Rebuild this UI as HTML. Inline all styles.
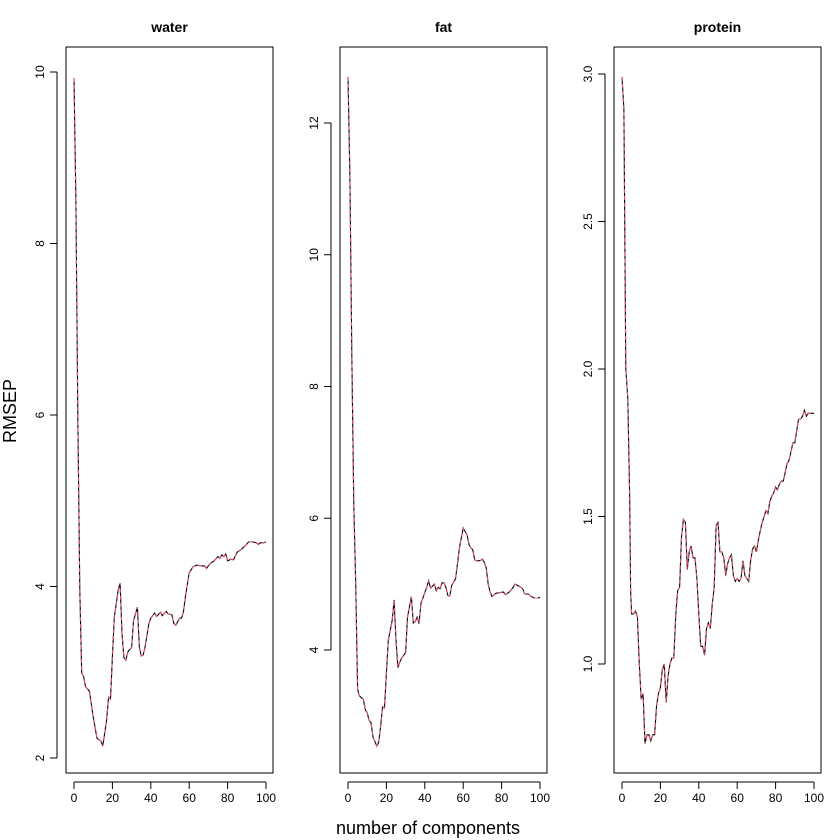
<!DOCTYPE html>
<html><head><meta charset="utf-8"><style>body{margin:0;background:#fff}svg{display:block}text{font-family:"Liberation Sans",sans-serif}</style></head>
<body>
<svg id="c" width="840" height="840" viewBox="0 0 840 840">
<text x="16" y="411" font-size="18" text-anchor="middle" transform="rotate(-90 16 411)">RMSEP</text>
<text x="428" y="834" font-size="18" text-anchor="middle">number of components</text>
</svg>
<script>
const waterX=[0,1,2,3,4,5,6,8,10,12,14,15,17,18,19,20,21,23,24,25,26,27,28,30,31,33,34,35,36,37,39,40,42,43,45,46,48,49,51,52,53,55,56,57,58,60,62,64,66,68,69,71,73,75,76,77,78,79,80,82,83,85,87,89,91,93,95,96,97,99,100];
const waterY=[9.93,8.5,6.0,3.96,2.99,2.95,2.83,2.78,2.48,2.23,2.2,2.14,2.44,2.71,2.69,3.18,3.64,3.96,4.04,3.45,3.17,3.14,3.24,3.29,3.6,3.76,3.3,3.19,3.2,3.29,3.57,3.63,3.69,3.65,3.7,3.66,3.71,3.68,3.67,3.57,3.55,3.63,3.63,3.7,3.88,4.16,4.23,4.25,4.24,4.24,4.21,4.27,4.3,4.35,4.33,4.37,4.35,4.38,4.3,4.32,4.31,4.4,4.43,4.47,4.52,4.52,4.51,4.49,4.51,4.51,4.52];
const fatX=[0,1,2,3,4,5,6,8,9,10,11,12,13,15,16,17,18,19,20,21,23,24,25,26,27,28,30,31,33,34,35,36,37,38,40,41,42,43,44,45,46,47,48,49,50,51,52,53,54,56,57,58,59,60,61,62,63,64,65,66,67,69,70,71,72,73,74,75,77,79,81,82,84,86,87,89,91,92,94,95,97,99,100];
const fatY=[12.7,11.2,8.5,6.2,5.02,3.4,3.3,3.25,3.09,3.05,2.93,2.9,2.68,2.54,2.6,2.84,3.14,3.12,3.65,4.15,4.45,4.76,4.15,3.73,3.82,3.88,3.96,4.5,4.81,4.41,4.43,4.5,4.4,4.71,4.87,4.95,5.05,4.94,4.97,5.0,4.9,4.95,4.93,5.02,5.02,4.95,4.83,4.82,4.98,5.08,5.3,5.55,5.7,5.85,5.8,5.75,5.6,5.55,5.52,5.37,5.35,5.36,5.38,5.33,5.25,5.0,4.88,4.81,4.86,4.87,4.88,4.84,4.88,4.95,5.0,4.97,4.93,4.85,4.85,4.82,4.79,4.79,4.8];
const protX=[0,1,2,3,4,4.5,5,6,7,8,9,10,11,12,13,14,15,16,17,18,19,20,21,22,23,24,25,26,27,28,29,30,31,32,33,34,35,36,37,38,39,40,41,42,43,44,45,46,47,48,49,50,51,52,53,54,55,56,57,58,59,60,61,62,63,64,65,66,67,68,69,70,71,72,73,74,75,76,77,78,79,80,81,82,83,84,85,86,87,88,89,90,91,92,93,94,95,96,97,98,100];
const protY=[2.99,2.88,2.0,1.9,1.56,1.25,1.17,1.17,1.18,1.16,1.0,0.88,0.9,0.73,0.76,0.76,0.74,0.76,0.76,0.86,0.9,0.92,0.98,1.0,0.87,0.96,1.0,1.02,1.02,1.17,1.25,1.26,1.43,1.49,1.48,1.32,1.38,1.4,1.36,1.36,1.29,1.17,1.06,1.06,1.03,1.12,1.14,1.12,1.2,1.26,1.47,1.48,1.38,1.38,1.36,1.3,1.34,1.36,1.37,1.3,1.28,1.29,1.28,1.29,1.35,1.3,1.29,1.28,1.35,1.39,1.4,1.38,1.42,1.45,1.48,1.5,1.52,1.51,1.55,1.57,1.58,1.6,1.59,1.61,1.62,1.62,1.65,1.68,1.69,1.72,1.75,1.75,1.79,1.83,1.83,1.84,1.86,1.84,1.85,1.85,1.85];
const xTicks=[0,20,40,60,80,100];
const waterTicks=[2,4,6,8,10], fatTicks=[4,6,8,10,12], protTicks=[1.0,1.5,2.0,2.5,3.0];
const panels=[
 {name:'water',title:'water',xs:waterX,ys:waterY,ticks:waterTicks,fmt:v=>String(v),box:[66,47,273,773],v0:2,p0:758,v1:10,p1:72},
 {name:'fat',title:'fat',xs:fatX,ys:fatY,ticks:fatTicks,fmt:v=>String(v),box:[340,47,547,773],v0:4,p0:650,v1:12,p1:123},
 {name:'protein',title:'protein',xs:protX,ys:protY,ticks:protTicks,fmt:v=>v.toFixed(1),box:[614,47,821,773],v0:1,p0:664,v1:3,p1:74}];
const svg=document.getElementById('c');const NS='http://www.w3.org/2000/svg';
function mk(t,a,p){const e=document.createElementNS(NS,t);for(const k in a)e.setAttribute(k,a[k]);(p||svg).appendChild(e);return e;}
panels.forEach(P=>{
 const [x0,y0,x1,y1]=P.box;
 const g=mk('g',{});
 
 
 const xs=c=>x0+8+(x1-x0-15)*c/100;
 const ys=v=>P.p0+(v-P.v0)*(P.p1-P.p0)/(P.v1-P.v0);
 const r=mk('rect',{x:x0,y:y0,width:x1-x0,height:y1-y0,fill:'none',stroke:'#000','stroke-width':1},g);
 
 
 const t=mk('text',{x:(x0+x1)/2,y:32,'font-size':14,'font-weight':'bold','text-anchor':'middle'},g);t.textContent=P.title;
 
 
 const xa=mk('g',{},g);
 
 
 mk('line',{x1:xs(0),x2:xs(100),y1:y1+9,y2:y1+9,stroke:'#000'},xa);
 xTicks.forEach(v=>{mk('line',{x1:xs(v),x2:xs(v),y1:y1+9,y2:y1+16,stroke:'#000'},xa);
  const l=mk('text',{x:xs(v),y:y1+29,'font-size':12,'text-anchor':'middle'},xa);l.textContent=v;
  
  });
 const ya=mk('g',{},g);
 
 
 const t0=P.ticks[0],t1=P.ticks[P.ticks.length-1];
 mk('line',{x1:x0-9,x2:x0-9,y1:ys(t0),y2:ys(t1),stroke:'#000'},ya);
 P.ticks.forEach(v=>{mk('line',{x1:x0-16,x2:x0-9,y1:ys(v),y2:ys(v),stroke:'#000'},ya);
  const lx=x0-22;const l=mk('text',{x:lx,y:ys(v),'font-size':12,'text-anchor':'middle',transform:`rotate(-90 ${lx} ${ys(v)})`},ya);l.textContent=P.fmt(v);
  
  });
 const d=P.xs.map((c,i)=>(i?'L':'M')+xs(c).toFixed(1)+' '+ys(P.ys[i]).toFixed(1)).join('');
 const l1=mk('path',{d:d,fill:'none',stroke:'#000','stroke-width':1.1},g);
 
 
 const l2=mk('path',{d:d,fill:'none',stroke:'#df536b','stroke-width':1.1,'stroke-dasharray':'4 3'},g);
 
 
});
</script>
</body></html>
